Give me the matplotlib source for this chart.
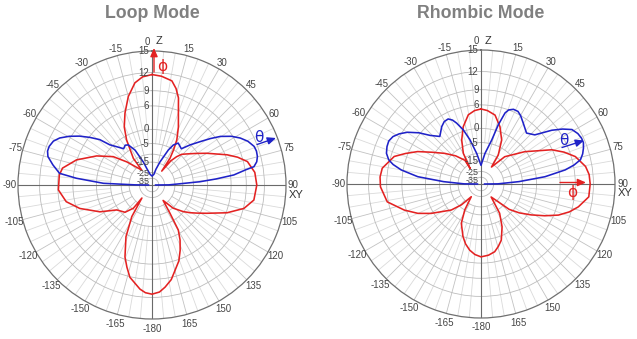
import numpy as np
import matplotlib.pyplot as plt
from matplotlib.patches import FancyArrowPatch

plt.rcParams['font.family'] = ['Liberation Sans', 'DejaVu Sans']

W, H = 637, 339
RED = '#e32222'
BLUE = '#1f22c8'

# ---- pattern data: (angle in degrees, clockwise from Z; gain in dB) ----
loop_theta_ang = [-90, -89.5, -88, -84.9, -82.8, -78.5, -74.7, -72, -69.4, -66, -63,
                  -59.5, -56, -52.5, -49, -46.4, -42.7, -38, -34, -30.6, -25.9, -20.5,
                  -17, -10, 0, 10, 14, 19, 25, 28, 32, 36, 39, 43.5, 48, 51.5, 54.6,
                  58.5, 62, 65.5, 69.3, 72, 74.9, 77.5, 79.8, 80.8, 83, 84.6, 86.1,
                  87.5, 89.5, 90]
loop_theta_db = [-45, -20, -2.3, 5.3, 8.8, 10.2, 11.3, 11.6, 11.6, 11.3, 10.6,
                 9.3, 7.7, 5.8, 3.7, 0.8, -1.1, -3.2, -2.5, -3.0, -6.1, -14,
                 -20.5, -27.5, -30.5, -27.5, -20.8, -14, -6.2, -3.5, -2.0, -2.6, -3.0, -0.1, 2.6, 5.0, 7.0,
                 8.8, 10.0, 10.9, 11.5, 11.6, 11.5, 11.2, 10.6, 9.1, 6.7, 2.5, -2.5,
                 -11.7, -20, -45]

loop_phi_ang = [0, 5, 10.8, 14, 16.9, 20.1, 24.5, 28.8, 31.5, 34, 35, 38, 41, 44, 48.2,
                54, 59.9, 68.1, 72, 76.2, 83, 90, 98.4, 104.3, 110.3, 117.4, 122, 126,
                130.5, 137.6, 144.3, 147.5, 149.7, 153, 156.7, 160.5, 164.9, 168.5,
                172.7, 176, 180, 183.5, 186.6, 193.5, 197, 200.6, 206.7, 212.6, 217.8,
                218.7, 224.7, 234.7, 242.8, 252, 259, 267, 276.2, 280.7, 288.4, 297.7,
                306.2, 312.6, 325.5, 325, 330.6, 334.5, 339.4, 345, 350.5, 355, 360]
loop_phi_db = [11.7, 11.5, 11.0, 9.9, 8.4, 5.5, 2.3, -1.3, -5, -9.3, -20, -10, -6.7, -4.5, -3.0,
               -0.6, 2.2, 6.4, 8.2, 9.7, 10.6, 10.8, 10.5, 9.1, 6.2, 1.7, -0.8, -2.8,
               -5.2, -9.7, -18.1, -8.7, -1.1, 1.8, 4.2, 6.3, 7.9, 9.4,
               10.5, 11.2, 11.5, 11.3, 10.8, 9.1, 7.4, 5.5, 0.7, -6.7, -20.5,
               -10.6, -6.3, -4.3, 0.9, 5.3, 7.7, 8.9, 8.8, 8.4, 6.1, 2.0,
               -2.5, -8.3, -19, -9.1, -1.2, 2.5, 5.5, 8.5, 10.6, 11.4, 11.7]

rhomb_theta_ang = [-90, -89.5, -86.4, -83.4, -80, -77.5, -75.3, -72, -68.3, -65, -61.7,
                   -58.5, -54.9, -50.5, -46.3, -40.9, -34.4, -30.5, -26.8, -24, -21.8,
                   -18.1, -14, -8, 0, 7.4, 13.7, 16.3, 18.7, 20.5, 23.5, 27, 30, 34.7,
                   41.8, 47.6, 52.8, 56, 59.1, 62.5, 65.5, 68, 70.7, 73.5, 76.3, 78.5,
                   80.5, 83.5, 86.4, 89.5, 90]
rhomb_theta_db = [-45, -20, -6.7, 2.3, 6.4, 8.2, 9.2, 9.9, 10.2, 10.3, 10.0,
                  9.3, 8.2, 6.3, 4.0, 2.1, 3.8, 4.5, 4.6, 3.9, 2.8,
                  0.4, -3.4, -10, -18.4, -10, -3.5, 1.8, 5.1, 6.0, 6.5, 6.5, 6.0, 4.9,
                  3.5, 4.6, 8.0, 9.7, 11.0, 11.5, 11.7, 11.7, 11.4, 11.0, 10.4, 9.1,
                  7.3, 2.5, -6.4, -20, -45]

rhomb_phi_ang = [0, 5, 11.5, 18.3, 25.2, 30.8, 31.7, 41, 53.5, 64.2, 69, 73.8, 80.5, 85,
                 90, 96.8, 103.2, 107.5, 111.9, 116.5, 121.6, 127, 132, 136.2, 142,
                 147.5, 153.8, 160.1, 164.5, 168.6, 174, 180, 185, 189.7, 194.5, 198.9,
                 206.6, 212.1, 217.4, 223.2, 228.8, 239.5, 245, 251.2, 259.2, 268.4,
                 274, 279.1, 287.6, 292, 297.1, 303, 310.2, 318, 325.8, 325, 330,
                 336.3, 342.8, 349.6, 355, 360]
rhomb_phi_db = [5.1, 4.8, 4.0, 1.4, -2.3, -8.5, -17.3, -7.3, -0.4, 5.9, 8.0, 9.7, 11.0, 11.4,
                11.5, 11.4, 10.0, 8.7, 6.9, 4.2, 1.0, -2.5, -6.5, -14, -20.5,
                -8.0, -2.6, 1.2, 2.6, 3.7, 4.3, 4.6, 4.1, 3.2, 1.8, 0.0,
                -4.0, -10.2, -21, -11.3, -5.8, 0.7, 3.8, 6.4, 9.2, 10.1,
                10.2, 10.0, 8.4, 6.5, 4.2, 0.8, -2.7, -6.5, -11.2, -18.2, -7.7,
                -2.5, 1.3, 4.0, 4.8, 5.1]

ring_db = [12, 9, 6, 0, -5, -10, -15, -25, -35]
ring_labels = [15, 12, 9, 6, 0, -5, -15, -25, -35]
angle_ticks = list(range(-165, 181, 15))


# log-periodic radial scale: every 2 dB shrinks the radius by 0.89
def fwd(db):
    return 0.89 ** ((15 - np.asarray(db, float)) / 2)


def inv(r):
    r = np.clip(np.asarray(r, float), 1e-12, None)
    return 15 - 2 * np.log(r) / np.log(0.89)


def px(n):
    return n * 72 / 100


def polar_panel(fig, cx, cy, title, curves):
    R = 134
    ax = fig.add_axes([(cx - R) / W, (H - cy - R) / H, 2 * R / W, 2 * R / H],
                      projection='polar')
    ax.set_theta_zero_location('N')
    ax.set_theta_direction(-1)
    ax.set_rscale('function', functions=(fwd, inv))
    ax.set_rlim(-80, 15)
    ax.set_xticks([])
    ax.set_rgrids(ring_db, labels=[''] * len(ring_db))
    ax.xaxis.grid(False)
    ax.yaxis.grid(True, color='#bcbcbc', lw=0.6)
    ax.spines['polar'].set_color('#707070')
    ax.spines['polar'].set_linewidth(0.9)

    # spokes
    for a in range(0, 360, 5):
        t = np.deg2rad(a)
        if a % 90 == 0:
            ax.plot([t, t], [-80, 15], color='#6a6a6a', lw=0.8, zorder=2)
        elif a % 15 == 0:
            ax.plot([t, t], [-15, 15], color='#c2c2c2', lw=0.6, zorder=1)
        else:
            ax.plot([t, t], [-5, 15], color='#dadada', lw=0.6, zorder=1)

    for ang, db, col in curves:
        t = np.unwrap(np.deg2rad(ang))
        ax.plot(t, db, color=col, lw=1.15, zorder=4, solid_joinstyle='round')

    # radial labels along the Z axis (the innermost ones sit a little lower)
    for v in ring_labels:
        nudge = {-25: -1.5, -35: -3.5}.get(v, 0)
        ax.annotate(str(v), xy=(0, v), xytext=(px(-2.5), px(nudge)),
                    textcoords='offset points', ha='right', va='center',
                    fontsize=6.5 if v < -20 else 7, color='#454545', zorder=5)

    # angle labels
    for a in angle_ticks:
        if a in (0, 90):
            continue
        t = np.deg2rad(a)
        d = 142 - 1.5 * np.cos(t) - R
        ax.annotate('-180' if a == 180 else str(a), xy=(t, 15),
                    xytext=(px(d * np.sin(t)), px(d * np.cos(t))),
                    textcoords='offset points', ha='center', va='center',
                    fontsize=7, color='#454545', annotation_clip=False)
    ax.annotate('0', xy=(0, 15), xytext=(px(-5), px(9)), textcoords='offset points',
                ha='center', va='center', fontsize=7, color='#454545',
                annotation_clip=False)
    ax.annotate('Z', xy=(0, 15), xytext=(px(7), px(9.5)), textcoords='offset points',
                ha='center', va='center', fontsize=8, color='#333333',
                annotation_clip=False)
    ax.annotate('90', xy=(np.pi / 2, 15), xytext=(px(2), px(0)),
                textcoords='offset points', ha='left', va='center', fontsize=7,
                color='#454545', annotation_clip=False)
    ax.annotate('XY', xy=(np.pi / 2, 15), xytext=(px(2.5), px(-9.5)),
                textcoords='offset points', ha='left', va='center', fontsize=8,
                color='#333333', annotation_clip=False)

    fig.text(cx / W, 1 - 13 / H, title, ha='center', va='center',
             fontsize=12.8, fontweight='bold', color='#808080')
    return ax


def marker(fig, tail, tip, col, sym, at):
    fig.patches.append(FancyArrowPatch(
        (tail[0] / W, 1 - tail[1] / H), (tip[0] / W, 1 - tip[1] / H),
        transform=fig.transFigure, arrowstyle='-|>,head_length=0.5,head_width=0.22',
        mutation_scale=10, color=col, lw=1.0, shrinkA=0, shrinkB=0, zorder=6))
    fig.text(at[0] / W, 1 - at[1] / H, sym, ha='center', va='center', fontsize=11,
             color=col, family='DejaVu Sans', zorder=6)


fig = plt.figure(figsize=(W / 100, H / 100), dpi=100)

polar_panel(fig, 152, 185, 'Loop Mode',
            [(loop_phi_ang, loop_phi_db, RED), (loop_theta_ang, loop_theta_db, BLUE)])
polar_panel(fig, 481, 184, 'Rhombic Mode',
            [(rhomb_phi_ang, rhomb_phi_db, RED), (rhomb_theta_ang, rhomb_theta_db, BLUE)])

marker(fig, (154, 72), (154, 48), RED, '\u03d5', (162.5, 66))
marker(fig, (257, 144.5), (276, 138), BLUE, '\u03b8', (259, 137.5))
marker(fig, (562, 147.5), (584, 140.5), BLUE, '\u03b8', (564, 140))
marker(fig, (560, 182.5), (586, 182.5), RED, '\u03d5', (572.5, 192.5))

fig.savefig('out.png', dpi=100)
